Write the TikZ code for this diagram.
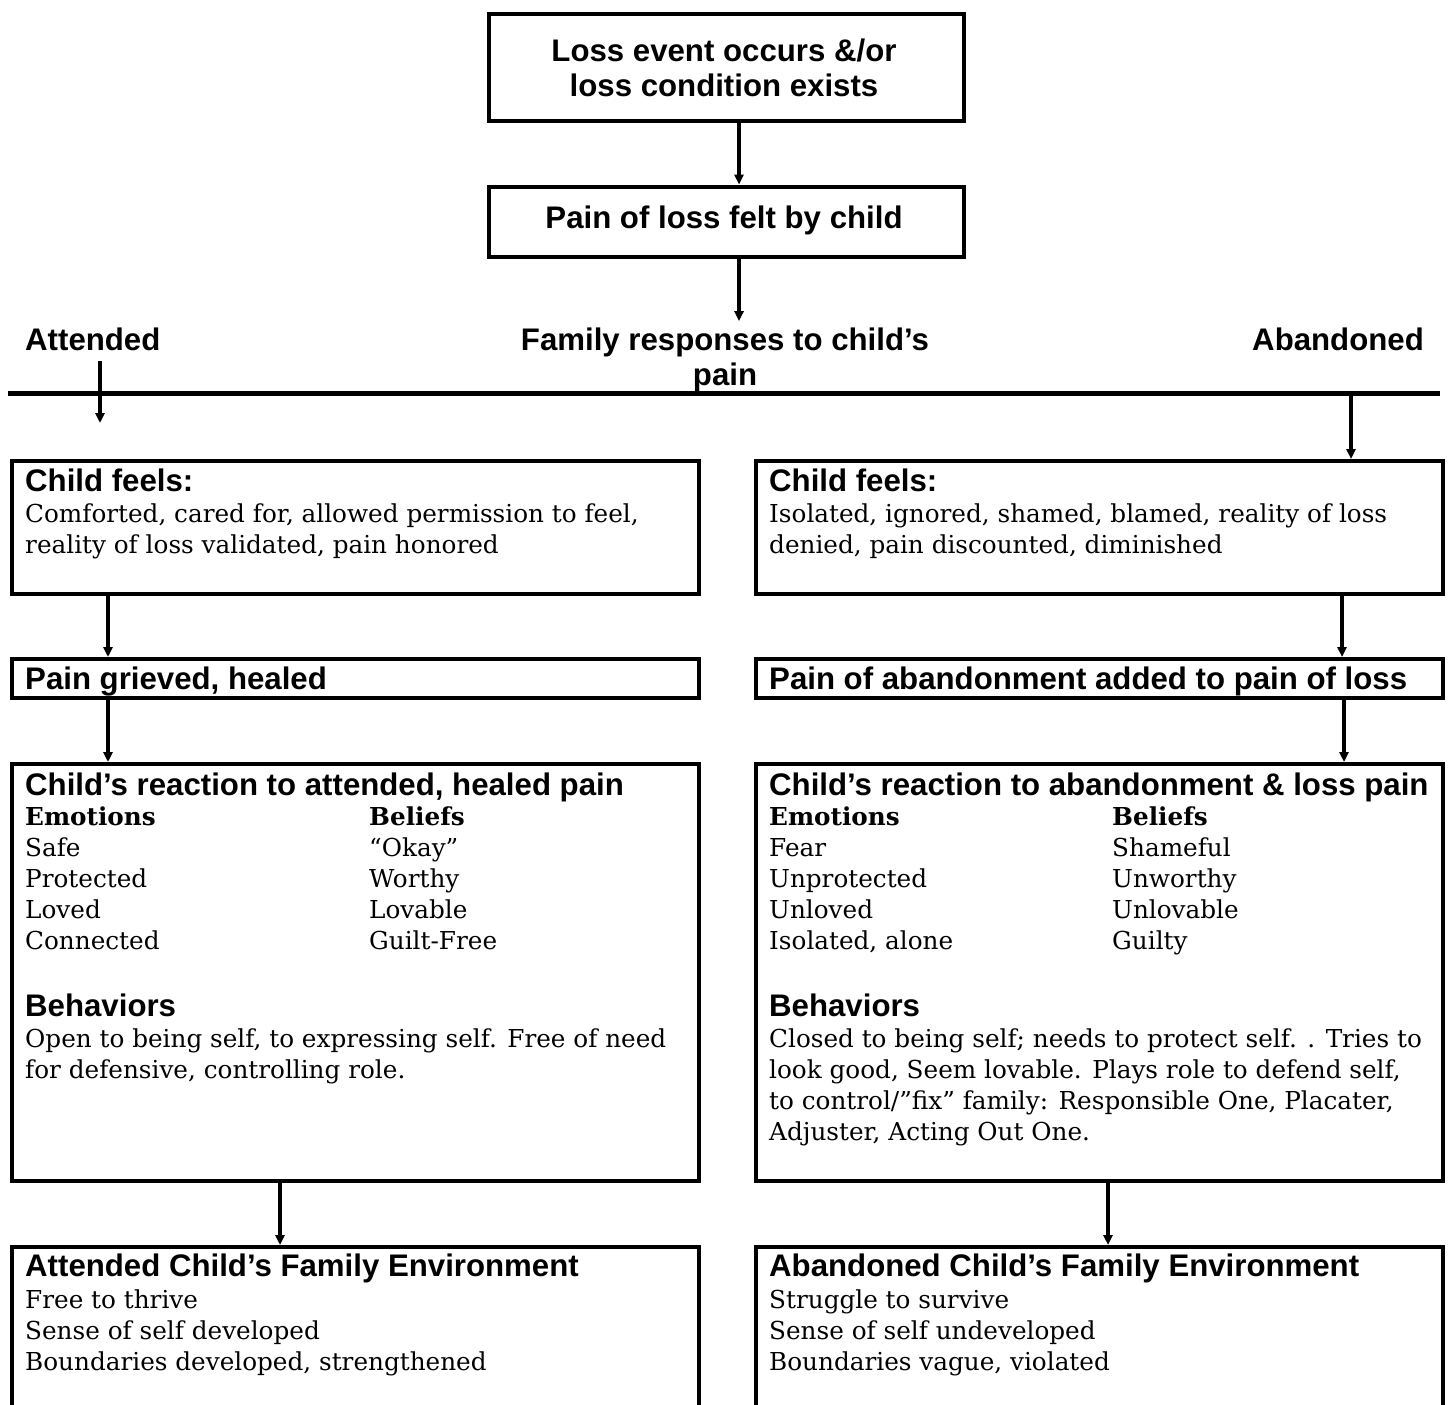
\documentclass[tikz,border=0pt]{standalone}
\usepackage{fontspec}
\setmainfont{DejaVu Serif}
\newfontfamily\hfont{Liberation Sans}
\usetikzlibrary{arrows.meta}
\tikzset{
  box/.style={draw, line width=4pt, anchor=north west, inner sep=0pt},
  arr/.style={line width=3.5pt, -{Triangle[length=10pt,width=9pt]}},
  head/.style={anchor=base west, inner sep=0pt, font=\hfont\bfseries\fontsize{31.2}{35}\selectfont},
  ctr/.style={inner sep=0pt, align=center, font=\hfont\bfseries\fontsize{31.2}{35}\selectfont},
  body/.style={anchor=base west, inner sep=0pt, font=\fontsize{24.7}{31}\selectfont},
  sbold/.style={anchor=base west, inner sep=0pt, font=\bfseries\fontsize{24.7}{31}\selectfont},
}
\begin{document}
\begin{tikzpicture}[x=1pt,y=-1pt]
\useasboundingbox (0,0) rectangle (1449,1405);
% top boxes
\node[box, minimum width=475pt, minimum height=106pt] (top) at (486.5,12.5) {};
\node[ctr] (toptxt) at (724,67.5) {Loss event occurs \&/or\\loss condition exists};
\node[box, minimum width=475pt, minimum height=70.5pt] (pain) at (486.5,184.5) {};
\node[ctr] (paintxt) at (724,220) {Pain of loss felt by child};
% family responses
\node[head, anchor=base, inner ysep=6pt] (fam) at (725,350) {Family responses to child’s};
\node[head, anchor=base] (fam2) at (725,385) {pain};
\node[head] (att) at (25,350) {Attended};
\node[head, anchor=base east] (aban) at (1424,350) {Abandoned};
\coordinate (hl) at (8,393);
\coordinate (hr) at (1440,393);
\draw[line width=5pt] (hl) -- (hr);
\coordinate (a1) at (100,361);
\coordinate (a2) at (100,423);
\draw[arr] (a1) -- (a2);
\coordinate (b1) at (1351,393);
% top arrows
\coordinate (ta) at ([xshift=13pt]top.south);
\coordinate (pa) at ([xshift=13pt]pain.south);
\draw[arr] (ta) -- (ta |- pain.north);
\draw[arr] (pa) -- (pa |- fam.north);
% left column boxes
\node[box, minimum width=687pt, minimum height=133pt] (cf1) at (10,459) {};
\node[box, minimum width=687pt, minimum height=39pt] (pg1) at (10,657) {};
\node[box, minimum width=687pt, minimum height=417pt] (re1) at (10,762) {};
\node[box, minimum width=687pt, minimum height=190pt] (env1) at (10,1245) {};
% right column boxes
\node[box, minimum width=687pt, minimum height=133pt] (cf2) at (754,459) {};
\node[box, minimum width=687pt, minimum height=39pt] (pg2) at (754,657) {};
\node[box, minimum width=687pt, minimum height=417pt] (re2) at (754,762) {};
\node[box, minimum width=687pt, minimum height=190pt] (env2) at (754,1245) {};
\draw[arr] (b1) -- (b1 |- cf2.north);
% column arrows
\draw[arr] ([xshift=98pt]cf1.south west) -- ([xshift=98pt]pg1.north west);
\draw[arr] ([xshift=588pt]cf2.south west) -- ([xshift=588pt]pg2.north west);
\draw[arr] ([xshift=98pt]pg1.south west) -- ([xshift=98pt]re1.north west);
\draw[arr] ([xshift=590pt]pg2.south west) -- ([xshift=590pt]re2.north west);
\draw[arr] ([xshift=270pt]re1.south west) -- ([xshift=270pt]env1.north west);
\draw[arr] ([xshift=354pt]re2.south west) -- ([xshift=354pt]env2.north west);
% left texts
\node[head] (l1) at (25,491) {Child feels:};
\node[body] (l2) at (25,522) {Comforted, cared for, allowed permission to feel,};
\node[body] (l3) at (25,553) {reality of loss validated, pain honored};
\node[head] (l4) at (25,689) {Pain grieved, healed};
\node[head] (l5) at (25,795) {Child’s reaction to attended, healed pain};
\node[sbold] (l6) at (25,825) {Emotions};
\node[sbold] (l7) at (369,825) {Beliefs};
\node[body] (l8) at (25,856) {Safe};
\node[body] (l9) at (369,856) {“Okay”};
\node[body] (l10) at (25,887) {Protected};
\node[body] (l11) at (369,887) {Worthy};
\node[body] (l12) at (25,918) {Loved};
\node[body] (l13) at (369,918) {Lovable};
\node[body] (l14) at (25,949) {Connected};
\node[body] (l15) at (369,949) {Guilt-Free};
\node[head] (l16) at (25,1016) {Behaviors};
\node[body] (l17) at (25,1047) {Open to being self, to expressing self. Free of need};
\node[body] (l18) at (25,1078) {for defensive, controlling role.};
\node[head] (l19) at (25,1276) {Attended Child’s Family Environment};
\node[body] (l20) at (25,1308) {Free to thrive};
\node[body] (l21) at (25,1339) {Sense of self developed};
\node[body] (l22) at (25,1370) {Boundaries developed, strengthened};
% right texts
\node[head] (r1) at (769,491) {Child feels:};
\node[body] (r2) at (769,522) {Isolated, ignored, shamed, blamed, reality of loss};
\node[body] (r3) at (769,553) {denied, pain discounted, diminished};
\node[head] (r4) at (769,689) {Pain of abandonment added to pain of loss};
\node[head] (r5) at (769,795) {Child’s reaction to abandonment \& loss pain};
\node[sbold] (r6) at (769,825) {Emotions};
\node[sbold] (r7) at (1112,825) {Beliefs};
\node[body] (r8) at (769,856) {Fear};
\node[body] (r9) at (1112,856) {Shameful};
\node[body] (r10) at (769,887) {Unprotected};
\node[body] (r11) at (1112,887) {Unworthy};
\node[body] (r12) at (769,918) {Unloved};
\node[body] (r13) at (1112,918) {Unlovable};
\node[body] (r14) at (769,949) {Isolated, alone};
\node[body] (r15) at (1112,949) {Guilty};
\node[head] (r16) at (769,1016) {Behaviors};
\node[body] (r17) at (769,1047) {Closed to being self; needs to protect self. . Tries to};
\node[body] (r18) at (769,1078) {look good, Seem lovable. Plays role to defend self,};
\node[body] (r19) at (769,1109) {to control/”fix” family: Responsible One, Placater,};
\node[body] (r20) at (769,1140) {Adjuster, Acting Out One.};
\node[head] (r21) at (769,1276) {Abandoned Child’s Family Environment};
\node[body] (r22) at (769,1308) {Struggle to survive};
\node[body] (r23) at (769,1339) {Sense of self undeveloped};
\node[body] (r24) at (769,1370) {Boundaries vague, violated};
\end{tikzpicture}
\end{document}
